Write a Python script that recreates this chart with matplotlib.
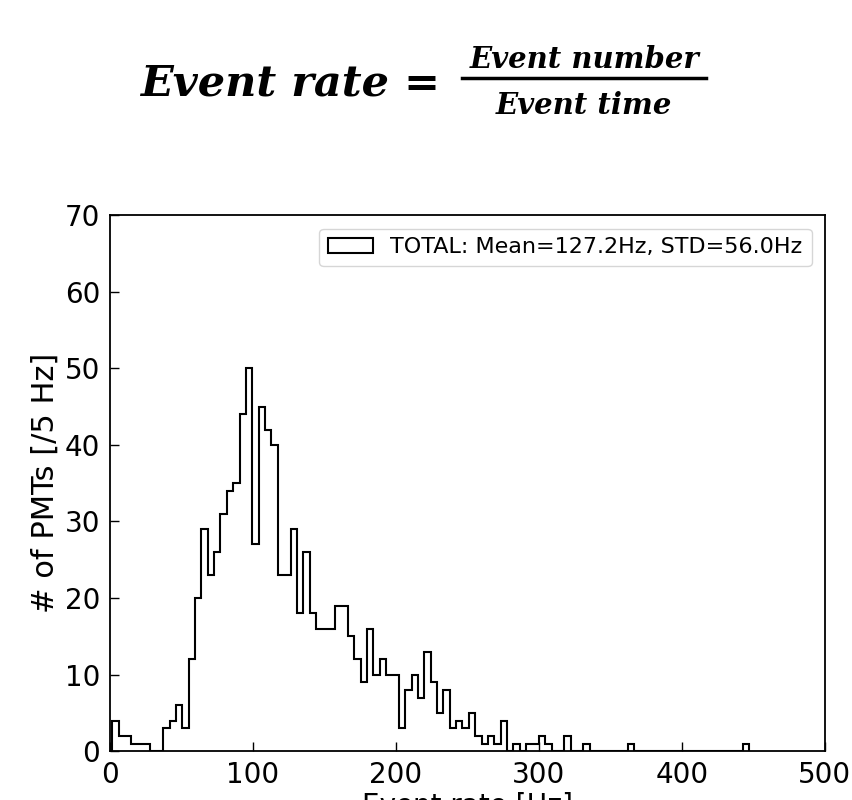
import numpy as np
import matplotlib
matplotlib.use("Agg")
import matplotlib.pyplot as plt

# bin edges (100 bins between data min and max)
rate_min = 1.5
rate_max = 447.0
n_bins = 100

# counts per bin
counts = [
    4, 2, 2, 1, 1, 1, 0, 0, 3, 4,
    6, 3, 12, 20, 29, 23, 26, 31, 34, 35,
    44, 50, 27, 45, 42, 40, 23, 23, 29, 18,
    26, 18, 16, 16, 16, 19, 19, 15, 12, 9,
    16, 10, 12, 10, 10, 3, 8, 10, 7, 13,
    9, 5, 8, 3, 4, 3, 5, 2, 1, 2,
    1, 4, 0, 1, 0, 1, 1, 2, 1, 0,
    0, 2, 0, 0, 1, 0, 0, 0, 0, 0,
    0, 1, 0, 0, 0, 0, 0, 0, 0, 0,
    0, 0, 0, 0, 0, 0, 0, 0, 0, 1,
]
label = "TOTAL: Mean=127.2Hz, STD=56.0Hz"

edges = np.linspace(rate_min, rate_max, n_bins + 1)
centers = 0.5 * (edges[:-1] + edges[1:])

fig = plt.figure(figsize=(8.53, 8.0), dpi=100)
ax = fig.add_axes([0.129, 0.061, 0.838, 0.670])

ax.hist(centers, bins=edges, weights=counts, histtype='step',
        color='black', linewidth=1.5, label=label)

ax.set_xlim(0, 500)
ax.set_ylim(0, 70)
ax.set_xticks([0, 100, 200, 300, 400, 500])
ax.set_yticks(range(0, 71, 10))
ax.tick_params(direction='in', length=6.5, width=1, labelsize=20, pad=7)
for s in ax.spines.values():
    s.set_linewidth(1.3)
ax.set_ylabel('# of PMTs [/5 Hz]', fontsize=22, labelpad=4)
ax.set_xlabel('Event rate [Hz]', fontsize=20, labelpad=2)
ax.legend(loc='upper right', fontsize=16, handlelength=2.0, borderaxespad=0.6)

# formula on top
ff = 'DejaVu Serif'
fig.text(0.164, 0.881, 'Event rate =', fontsize=31, family=ff,
         weight='bold', style='italic', ha='left', va='baseline')
fig.text(0.685, 0.915, 'Event number', fontsize=21, family=ff,
         weight='bold', style='italic', ha='center', va='baseline')
fig.text(0.685, 0.858, 'Event time', fontsize=21, family=ff,
         weight='bold', style='italic', ha='center', va='baseline')
fig.add_artist(plt.Line2D([0.542, 0.828], [0.9025, 0.9025], color='black',
                          linewidth=2.5, transform=fig.transFigure))

fig.savefig('out.png', dpi=100)
